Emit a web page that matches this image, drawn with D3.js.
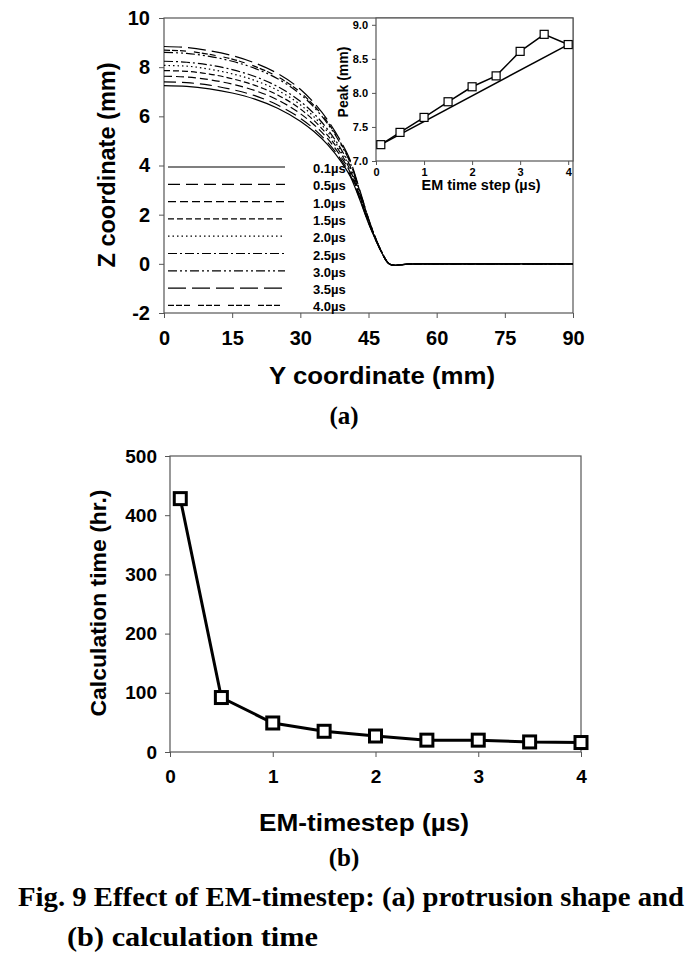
<!DOCTYPE html>
<html><head><meta charset="utf-8">
<script src="https://cdn.jsdelivr.net/npm/d3@7"></script>
<style>
body{margin:0;background:#fff}
svg{display:block}
text{font-family:"Liberation Sans",Arial,sans-serif;font-weight:bold;fill:#000}
</style>
</head><body>
<svg id="c" width="694" height="956"></svg>
<script>
// ---------- DATA ----------
// (a) protrusion profiles: Z (mm) at Y positions (mm)
const profileY = [0,5,10,15,20,25,30,33,36,39,41,43,45,47,48,49,50,51,52,54,56,90];
const z0_1 = [7.25,7.22,7.12,6.95,6.70,6.33,5.80,5.38,4.85,4.15,3.55,2.65,1.65,0.80,0.42,0.10,-0.04,-0.06,-0.04,-0.01,0,0];
const z0_5 = [7.40,7.37,7.27,7.09,6.84,6.46,5.92,5.49,4.94,4.23,3.61,2.69,1.67,0.80,0.42,0.10,-0.04,-0.06,-0.04,-0.01,0,0];
const z1_0 = [7.63,7.60,7.49,7.31,7.05,6.67,6.11,5.66,5.09,4.34,3.71,2.75,1.70,0.81,0.43,0.10,-0.04,-0.06,-0.04,-0.01,0,0];
const z1_5 = [7.86,7.83,7.72,7.53,7.26,6.87,6.30,5.83,5.23,4.46,3.80,2.80,1.73,0.82,0.43,0.10,-0.04,-0.06,-0.04,-0.01,0,0];
const z2_0 = [8.07,8.04,7.92,7.73,7.46,7.06,6.47,5.98,5.37,4.56,3.89,2.86,1.75,0.83,0.44,0.11,-0.04,-0.06,-0.04,-0.01,0,0];
const z2_5 = [8.24,8.20,8.09,7.90,7.62,7.21,6.61,6.11,5.47,4.65,3.96,2.90,1.78,0.83,0.44,0.11,-0.04,-0.06,-0.04,-0.01,0,0];
const z3_0 = [8.60,8.56,8.44,8.24,7.95,7.53,6.90,6.37,5.70,4.83,4.10,2.99,1.82,0.84,0.45,0.11,-0.04,-0.06,-0.04,-0.01,0,0];
const z3_5 = [8.84,8.80,8.67,8.47,8.17,7.74,7.10,6.55,5.85,4.95,4.20,3.05,1.85,0.85,0.45,0.11,-0.04,-0.06,-0.04,-0.01,0,0];
const z4_0 = [8.69,8.65,8.52,8.33,8.03,7.61,6.98,6.44,5.76,4.88,4.14,3.01,1.83,0.85,0.45,0.11,-0.04,-0.06,-0.04,-0.01,0,0];
const profileLabels = ["0.1µs","0.5µs","1.0µs","1.5µs","2.0µs","2.5µs","3.0µs","3.5µs","4.0µs"];
const profileSeries = [z0_1,z0_5,z1_0,z1_5,z2_0,z2_5,z3_0,z3_5,z4_0];
const mainXTicks = [0,15,30,45,60,75,90];
const mainYTicks = [-2,0,2,4,6,8,10];

// inset: peak vs EM time step
const peakSteps = [0.1,0.5,1,1.5,2,2.5,3,3.5,4];
const peakValues = [7.24,7.42,7.64,7.87,8.09,8.25,8.61,8.86,8.71];
const insetXTicks = [0,1,2,3,4];
const insetYTicks = [7.0,7.5,8.0,8.5,9.0];

// (b) calculation time
const calcSteps = [0.1,0.5,1,1.5,2,2.5,3,3.5,4];
const calcTimes = [428,92,49,35,27,20,20,17,16];
const calcXTicks = [0,1,2,3,4];
const calcYTicks = [0,100,200,300,400,500];

// ---------- STYLE ----------
const dashes = [null,"12,6","8,4","6,3","1.5,3","9,3,2,3","9,3,2,3,2,3","18,6","6,2,6,2,6,8"];
const frameColor = "#555";
const plain = d => String(d);

const svg = d3.select("#c");

function styleAxis(g, fs){
  g.select(".domain").remove();
  g.selectAll(".tick line").attr("stroke", frameColor);
  g.selectAll(".tick text").style("font-size", fs+"px").style("font-weight","bold")
    .style("font-family",'"Liberation Sans",Arial,sans-serif').attr("fill","#000");
}

// ---------- (a) main chart ----------
const x = d3.scaleLinear().domain([0,90]).range([164,573]);
const y = d3.scaleLinear().domain([-2,10]).range([313,18]);

svg.append("g").attr("transform","translate(0,313)")
  .call(d3.axisBottom(x).tickValues(mainXTicks).tickFormat(plain).tickSize(5).tickPadding(13))
  .call(g=>styleAxis(g,20));
svg.append("g").attr("transform","translate(164,0)")
  .call(d3.axisLeft(y).tickValues(mainYTicks).tickFormat(plain).tickSize(5).tickPadding(9))
  .call(g=>styleAxis(g,20));
svg.append("rect").attr("x",x(0)).attr("y",y(10)).attr("width",x(90)-x(0)).attr("height",y(-2)-y(10))
  .attr("fill","none").attr("stroke",frameColor).attr("stroke-width",1.2);

const line = d3.line().x((d,i)=>x(profileY[i])).y(d=>y(d)).curve(d3.curveMonotoneX);
profileSeries.forEach((s,k)=>{
  svg.append("path").datum(s).attr("d",line).attr("fill","none")
    .attr("stroke","#000").attr("stroke-width",1.2)
    .attr("stroke-dasharray",dashes[k]);
});

// legend
const legY0 = 167, legStep = 17.3;
profileLabels.forEach((lab,k)=>{
  const ly = legY0 + k*legStep;
  svg.append("line").attr("x1",168).attr("x2",285).attr("y1",ly).attr("y2",ly)
    .attr("stroke","#000").attr("stroke-width",1.2).attr("stroke-dasharray",dashes[k]);
  svg.append("text").attr("x",313).attr("y",ly+6).style("font-size","13px").text(lab);
});

svg.append("text").attr("transform","translate(115,165) rotate(-90)").attr("text-anchor","middle")
  .attr("textLength",205).attr("lengthAdjust","spacingAndGlyphs")
  .style("font-size","23px").text("Z coordinate (mm)");
svg.append("text").attr("x",382).attr("y",384).attr("text-anchor","middle")
  .attr("textLength",226).attr("lengthAdjust","spacingAndGlyphs")
  .style("font-size","23px").text("Y coordinate (mm)");
svg.append("text").attr("x",344).attr("y",424).attr("text-anchor","middle")
  .style("font-size","25px").style("font-family",'"Liberation Serif",serif').text("(a)");

// ---------- inset ----------
const xi = d3.scaleLinear().domain([0,4.1]).range([376,573]);
const yi = d3.scaleLinear().domain([7,9.1]).range([161,18]);
svg.append("rect").attr("x",xi(0)).attr("y",yi(9.1)).attr("width",xi(4.1)-xi(0)).attr("height",yi(7)-yi(9.1))
  .attr("fill","#fff").attr("stroke",frameColor).attr("stroke-width",1.2);
svg.append("g").attr("transform","translate(0,161)")
  .call(d3.axisBottom(xi).tickValues(insetXTicks).tickFormat(plain).tickSize(4).tickPadding(3))
  .call(g=>styleAxis(g,11));
svg.append("g").attr("transform","translate(376,0)")
  .call(d3.axisLeft(yi).tickValues(insetYTicks).tickFormat(d3.format(".1f")).tickSize(4).tickPadding(4))
  .call(g=>styleAxis(g,11));
const n = peakSteps.length;
svg.append("line").attr("x1",xi(peakSteps[0])).attr("y1",yi(peakValues[0]))
  .attr("x2",xi(peakSteps[n-1])).attr("y2",yi(peakValues[n-1]))
  .attr("stroke","#000").attr("stroke-width",1.5);
svg.append("path").datum(peakValues)
  .attr("d",d3.line().x((d,i)=>xi(peakSteps[i])).y(d=>yi(d)))
  .attr("fill","none").attr("stroke","#000").attr("stroke-width",1.5);
svg.selectAll(".pm").data(peakValues).enter().append("rect")
  .attr("x",(d,i)=>xi(peakSteps[i])-4).attr("y",d=>yi(d)-4).attr("width",8).attr("height",8)
  .attr("fill","#fff").attr("stroke","#000").attr("stroke-width",1.2);
svg.append("text").attr("transform","translate(348,82) rotate(-90)").attr("text-anchor","middle")
  .style("font-size","14px").text("Peak (mm)");
svg.append("text").attr("x",481).attr("y",190).attr("text-anchor","middle")
  .attr("textLength",119).attr("lengthAdjust","spacingAndGlyphs")
  .style("font-size","14px").text("EM time step (µs)");

// ---------- (b) calculation time ----------
const xb = d3.scaleLinear().domain([0,4]).range([170,581]);
const yb = d3.scaleLinear().domain([0,500]).range([752,456]);
svg.append("g").attr("transform","translate(0,752)")
  .call(d3.axisBottom(xb).tickValues(calcXTicks).tickFormat(plain).tickSize(5).tickPadding(13))
  .call(g=>styleAxis(g,19));
svg.append("g").attr("transform","translate(170,0)")
  .call(d3.axisLeft(yb).tickValues(calcYTicks).tickFormat(plain).tickSize(5).tickPadding(8))
  .call(g=>styleAxis(g,19));
svg.append("rect").attr("x",xb(0)).attr("y",yb(500)).attr("width",xb(4)-xb(0)).attr("height",yb(0)-yb(500))
  .attr("fill","none").attr("stroke",frameColor).attr("stroke-width",1.2);
svg.append("path").datum(calcTimes)
  .attr("d",d3.line().x((d,i)=>xb(calcSteps[i])).y(d=>yb(d)))
  .attr("fill","none").attr("stroke","#000").attr("stroke-width",3);
svg.selectAll(".cm").data(calcTimes).enter().append("rect")
  .attr("x",(d,i)=>xb(calcSteps[i])-6).attr("y",d=>yb(d)-6).attr("width",12).attr("height",12)
  .attr("fill","#fff").attr("stroke","#000").attr("stroke-width",3);
svg.append("text").attr("transform","translate(106,603) rotate(-90)").attr("text-anchor","middle")
  .attr("textLength",227).attr("lengthAdjust","spacingAndGlyphs")
  .style("font-size","22px").text("Calculation time (hr.)");
svg.append("text").attr("x",364).attr("y",831).attr("text-anchor","middle")
  .attr("textLength",210).attr("lengthAdjust","spacingAndGlyphs")
  .style("font-size","23px").text("EM-timestep (µs)");
svg.append("text").attr("x",344).attr("y",866).attr("text-anchor","middle")
  .style("font-size","25px").style("font-family",'"Liberation Serif",serif').text("(b)");

// caption
svg.append("text").attr("x",18).attr("y",906).attr("textLength",666).attr("lengthAdjust","spacingAndGlyphs")
  .style("font-size","28px").style("font-family",'"Liberation Serif",serif')
  .text("Fig. 9 Effect of EM-timestep: (a) protrusion shape and");
svg.append("text").attr("x",67).attr("y",946).attr("textLength",251).attr("lengthAdjust","spacingAndGlyphs")
  .style("font-size","28px").style("font-family",'"Liberation Serif",serif')
  .text("(b) calculation time");
</script>
</body></html>
